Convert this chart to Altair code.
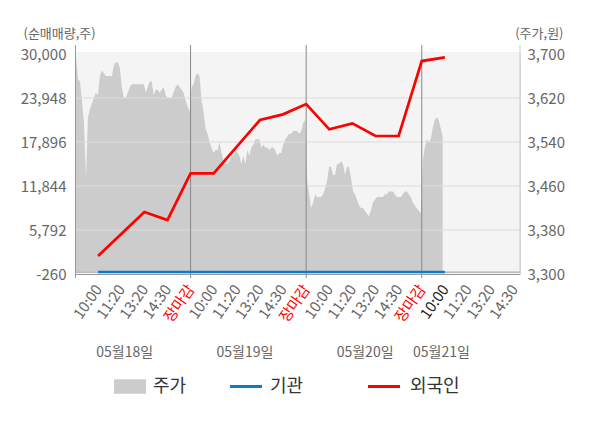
import json
import altair as alt
import pandas as pd

FONT = "Noto Sans CJK KR"

# ---------------- data ----------------
# x axis in "slot" units: each trading day spans 5 slots
tick_labels = ["10:00", "11:20", "13:20", "14:30", "장마감"] * 3 + ["10:00", "11:20", "13:20", "14:30"]
date_labels = ["05월18일", "05월19일", "05월20일", "05월21일"]
date_label_at = [2.15, 7.35, 12.55, 15.85]
day_bounds = [5, 10, 15]
series_names = ["주가", "기관", "외국인"]

# share price (won), sampled evenly through each session
price_day1 = [3695, 3655, 3650, 3615, 3575, 3475, 3585, 3600, 3610, 3620, 3630, 3625,
              3660, 3670, 3665, 3660, 3660, 3660, 3660, 3680, 3685, 3685, 3675, 3640,
              3620, 3620, 3630, 3640, 3645, 3645, 3645, 3645, 3645, 3645, 3645, 3630,
              3640, 3650, 3650, 3625, 3635, 3635, 3630, 3635, 3640, 3625, 3620, 3620,
              3620, 3630, 3640, 3645, 3640, 3635, 3630, 3615, 3605, 3595]
price_day2 = [3640, 3645, 3660, 3665, 3660, 3615, 3595, 3565, 3555, 3540, 3530, 3520,
              3525, 3525, 3540, 3520, 3505, 3500, 3500, 3505, 3515, 3515, 3525, 3520,
              3515, 3500, 3515, 3500, 3525, 3515, 3530, 3535, 3545, 3545, 3545, 3530,
              3535, 3530, 3530, 3525, 3530, 3530, 3525, 3515, 3520, 3520, 3535, 3545,
              3550, 3555, 3555, 3560, 3560, 3560, 3555, 3560, 3575, 3580]
price_day3 = [3470, 3445, 3420, 3430, 3445, 3440, 3440, 3440, 3445, 3455, 3470, 3495,
              3495, 3480, 3480, 3500, 3500, 3505, 3500, 3480, 3495, 3495, 3475, 3450,
              3445, 3435, 3425, 3420, 3420, 3415, 3410, 3405, 3415, 3430, 3435, 3440,
              3440, 3440, 3440, 3445, 3445, 3450, 3450, 3450, 3445, 3440, 3440, 3440,
              3445, 3450, 3450, 3445, 3440, 3430, 3425, 3420, 3415, 3410]
price_day4 = [3505, 3530, 3545, 3540, 3545, 3565, 3580, 3585, 3580, 3565, 3550]
SAMPLES_PER_DAY = 58

# net buying (shares), one value per labelled slot
flow_slots = list(range(1, 17))
foreign = [2216, 5240, 8270, 7170, 13590, 13590, 17250, 20920, 21700, 23120,
           19640, 20460, 18720, 18720, 29030, 29540]
institution = [0] * 16

left_ticks = [-260, 5792, 11844, 17896, 23948, 30000]
right_ticks = [3300, 3380, 3460, 3540, 3620, 3700]

# ---------------- tables ----------------
rows = []
for d, day in enumerate([price_day1, price_day2, price_day3, price_day4]):
    for i, p in enumerate(day):
        rows.append({"t": d * 5 + (i + 0.5) * 5 / SAMPLES_PER_DAY, "price": p})
price_df = pd.DataFrame(rows)
flow_df = pd.DataFrame({"t": flow_slots, "foreign": foreign, "inst": institution})
grid_df = pd.DataFrame({"v": left_ticks[1:-1]})
bound_df = pd.DataFrame({"b": day_bounds})
date_df = pd.DataFrame({"at": date_label_at, "label": date_labels})
one = pd.DataFrame({"a": [0]})

W, H = 445, 220
GRAY_AREA = "#cccccc"
BLUE = "#0a7cc9"
RED = "#ff0000"
LABEL = "#666666"

xs = alt.Scale(domain=[0, 19.25], nice=False, zero=False)
ys_left = alt.Scale(domain=[-260, 30000], nice=False, zero=False)
ys_right = alt.Scale(domain=[3300, 3700], nice=False, zero=False)

label_expr = json.dumps([""] + tick_labels, ensure_ascii=False) + "[datum.value]"

x_axis = alt.Axis(
    values=list(range(1, 20)), labelExpr=label_expr, labelAngle=305,
    labelAlign="right", labelBaseline="middle", labelPadding=12,
    ticks=False, domain=False, grid=False, title=None,
    labelFont=FONT, labelFontSize=15, labelOverlap=False, labelBound=False,
    labelColor={"condition": [{"test": "datum.value == 5 || datum.value == 10 || datum.value == 15",
                               "value": "#ff0000"},
                              {"test": "datum.value == 16", "value": "#222222"}],
                "value": LABEL},
)

bg = alt.Chart(one).mark_rule(color="#f4f4f4", strokeWidth=W).encode(
    x=alt.value(W / 2), y=alt.value(-2), y2=alt.value(H))

area = alt.Chart(price_df).mark_area(color=GRAY_AREA, opacity=1).encode(
    x=alt.X("t:Q", scale=xs, axis=x_axis),
    y=alt.Y("price:Q", scale=ys_right, stack=None,
            axis=alt.Axis(orient="right", values=right_ticks, format=",.0f", ticks=False,
                          domain=False, grid=False, labelPadding=7, labelFont=FONT,
                          labelFontSize=15, labelColor=LABEL,
                          title="(주가,원)", titleAngle=0, titleAlign="right",
                          titleBaseline="middle", titleX=43, titleY=-21,
                          titleFont=FONT, titleFontSize=13, titleFontWeight="normal",
                          titleColor=LABEL)),
    y2=alt.value(217.5),
)

grid = alt.Chart(grid_df).mark_rule(color="#dcdcdc", strokeWidth=1).encode(
    y=alt.Y("v:Q", scale=ys_left,
            axis=alt.Axis(orient="left", values=left_ticks, format=",.0f", ticks=False,
                          labelExpr="replace(datum.label, '\u2212', '-')",
                          domain=False, grid=False, labelPadding=9, labelFont=FONT,
                          labelFontSize=15, labelColor=LABEL,
                          title="(순매매량,주)", titleAngle=0, titleAlign="left",
                          titleBaseline="middle", titleX=-52, titleY=-21,
                          titleFont=FONT, titleFontSize=13, titleFontWeight="normal",
                          titleColor=LABEL)),
    x=alt.value(0), x2=alt.value(W),
)

bounds = alt.Chart(bound_df).mark_rule(color="#888888", strokeWidth=1).encode(
    x=alt.X("b:Q", scale=xs, axis=None), y=alt.value(-9), y2=alt.value(H + 4))

zero_line = alt.Chart(one).mark_rule(color="#999999", strokeWidth=1).encode(
    y=alt.Y("a:Q", scale=ys_left, axis=None), x=alt.value(0), x2=alt.value(W))

inst_line = alt.Chart(flow_df).mark_line(color=BLUE, strokeWidth=2.5).encode(
    x=alt.X("t:Q", scale=xs, axis=None), y=alt.Y("inst:Q", scale=ys_left, axis=None))

foreign_line = alt.Chart(flow_df).mark_line(color=RED, strokeWidth=2.7).encode(
    x=alt.X("t:Q", scale=xs, axis=None), y=alt.Y("foreign:Q", scale=ys_left, axis=None))

left_edge = alt.Chart(one).mark_rule(color="#999999").encode(
    x=alt.value(0.5), y=alt.value(-9), y2=alt.value(H + 4))
right_edge = alt.Chart(one).mark_rule(color="#cccccc").encode(
    x=alt.value(W), y=alt.value(-9), y2=alt.value(H + 1))
bottom_edge = alt.Chart(one).mark_rule(color="#999999").encode(
    x=alt.value(0), x2=alt.value(W), y=alt.value(H + 0.5))

dates = alt.Chart(date_df).mark_text(font=FONT, fontSize=14, color=LABEL, baseline="middle").encode(
    x=alt.X("at:Q", scale=xs, axis=None), y=alt.value(299), text="label:N")

LEG_Y = 332.5
leg_box = alt.Chart(one).mark_rule(color=GRAY_AREA, strokeWidth=14.5).encode(
    x=alt.value(39), x2=alt.value(71), y=alt.value(LEG_Y))
leg_blue = alt.Chart(one).mark_rule(color=BLUE, strokeWidth=3).encode(
    x=alt.value(155), x2=alt.value(187), y=alt.value(LEG_Y))
leg_red = alt.Chart(one).mark_rule(color=RED, strokeWidth=3).encode(
    x=alt.value(293), x2=alt.value(325), y=alt.value(LEG_Y))
leg_text = []
for name, lx in zip(series_names, [78, 195, 335]):
    leg_text.append(alt.Chart(one).mark_text(font=FONT, fontSize=18, color="#333333",
                                             align="left", baseline="middle").encode(
        x=alt.value(lx), y=alt.value(LEG_Y + 0.5), text=alt.value(name)))

chart = alt.layer(
    bg, area, grid, bounds, zero_line, inst_line, foreign_line,
    left_edge, right_edge, bottom_edge, dates,
    leg_box, leg_blue, leg_red, *leg_text,
).resolve_scale(x="independent", y="independent").properties(
    width=W, height=H,
    autosize=alt.AutoSizeParams(type="none"),
    padding={"left": 67, "top": 46, "right": 72, "bottom": 146},
).configure_view(stroke=None).configure(background="white")

chart.save("out.html", embed_options={"renderer": "svg", "actions": False})
